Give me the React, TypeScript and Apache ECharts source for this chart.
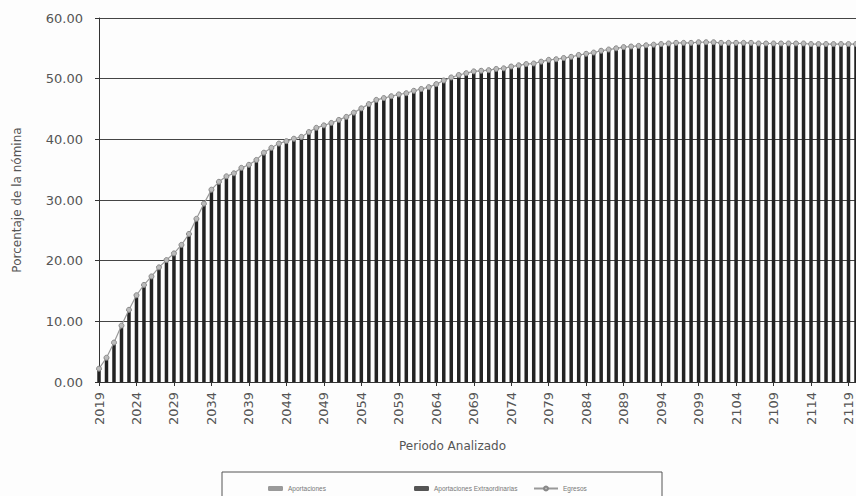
import React, { useEffect, useRef } from "react";
import * as echarts from "echarts";

const years: string[] = [
  "2019","2020","2021","2022","2023","2024","2025","2026","2027","2028",
  "2029","2030","2031","2032","2033","2034","2035","2036","2037","2038",
  "2039","2040","2041","2042","2043","2044","2045","2046","2047","2048",
  "2049","2050","2051","2052","2053","2054","2055","2056","2057","2058",
  "2059","2060","2061","2062","2063","2064","2065","2066","2067","2068",
  "2069","2070","2071","2072","2073","2074","2075","2076","2077","2078",
  "2079","2080","2081","2082","2083","2084","2085","2086","2087","2088",
  "2089","2090","2091","2092","2093","2094","2095","2096","2097","2098",
  "2099","2100","2101","2102","2103","2104","2105","2106","2107","2108",
  "2109","2110","2111","2112","2113","2114","2115","2116","2117","2118",
  "2119","2120",
];

// Egresos (% de la nómina)
const egresos: number[] = [
  2.2, 4.0, 6.5, 9.3, 11.9, 14.3, 16.0, 17.4, 18.9, 20.1,
  21.2, 22.6, 24.4, 26.9, 29.4, 31.7, 33.0, 33.9, 34.4, 35.3,
  35.8, 36.6, 37.8, 38.6, 39.3, 39.7, 40.1, 40.4, 41.2, 41.9,
  42.3, 42.7, 43.2, 43.7, 44.4, 45.1, 45.8, 46.5, 46.8, 47.1,
  47.4, 47.6, 48.0, 48.3, 48.6, 49.1, 49.7, 50.2, 50.6, 50.9,
  51.2, 51.3, 51.4, 51.6, 51.7, 52.0, 52.2, 52.4, 52.5, 52.8,
  53.1, 53.2, 53.4, 53.6, 53.9, 54.1, 54.3, 54.6, 54.8, 55.0,
  55.2, 55.3, 55.4, 55.5, 55.6, 55.7, 55.8, 55.9, 55.9, 55.9,
  56.0, 56.0, 56.0, 55.9, 55.9, 55.9, 55.9, 55.9, 55.8, 55.8,
  55.8, 55.8, 55.8, 55.8, 55.8, 55.7, 55.7, 55.7, 55.7, 55.7,
  55.7, 55.7,
];

// Aportaciones cover the expenses each year (bars reach the Egresos line)
const aportaciones: number[] = egresos.slice();
const aportacionesExtraordinarias: number[] = [];

const yTicks = { min: 0, max: 60, interval: 10 };

export default function App() {
  const ref = useRef<HTMLDivElement>(null);

  useEffect(() => {
    if (!ref.current) return;
    const chart = echarts.init(ref.current, undefined, { renderer: "svg" });
    const font = "DejaVu Sans";
    const legendText = { fontSize: 6.5, fontFamily: "Liberation Sans", color: "#777" };
    chart.setOption({
      animation: false,
      backgroundColor: "#fdfdfd",
      grid: { left: 99, right: 0, top: 18, bottom: 114, containLabel: false },
      xAxis: {
        type: "category",
        data: years,
        boundaryGap: false,
        axisLine: { show: true, lineStyle: { color: "#333", width: 1 } },
        axisTick: { show: true, interval: 4, length: 4, lineStyle: { color: "#333" } },
        axisLabel: {
          interval: 4,
          rotate: 90,
          margin: 10,
          fontSize: 13,
          fontFamily: font,
          color: "#555",
        },
        splitLine: { show: false },
      },
      yAxis: {
        type: "value",
        min: yTicks.min,
        max: yTicks.max,
        interval: yTicks.interval,
        name: "Porcentaje de la nómina",
        nameLocation: "middle",
        nameGap: 76,
        nameTextStyle: { fontSize: 12, fontFamily: font, color: "#555" },
        axisLine: { show: true, lineStyle: { color: "#333", width: 1 } },
        axisTick: { show: true, length: 4, lineStyle: { color: "#333" } },
        axisLabel: {
          margin: 16,
          fontSize: 13,
          fontFamily: font,
          color: "#555",
          formatter: (v: number) => v.toFixed(2),
        },
        splitLine: { show: true, lineStyle: { color: "#444", width: 1 } },
      },
      legend: [
        {
          data: [{ name: "Aportaciones", itemStyle: { color: "#9a9a9a" } }],
          left: 263,
          top: 480,
          itemWidth: 15,
          itemHeight: 5,
          itemGap: 3,
          textStyle: legendText,
        },
        {
          data: [{ name: "Aportaciones Extraordinarias", itemStyle: { color: "#555" } }],
          left: 409,
          top: 480,
          itemWidth: 15,
          itemHeight: 5,
          textStyle: legendText,
        },
        {
          data: ["Egresos"],
          left: 528,
          top: 480,
          itemWidth: 24,
          itemHeight: 5,
          textStyle: legendText,
        },
      ],
      graphic: [
        {
          type: "text",
          left: 399,
          top: 440,
          style: {
            text: "Periodo Analizado",
            fontSize: 12,
            fontFamily: font,
            fill: "#555",
          },
        },
        {
          type: "rect",
          shape: { x: 222, y: 472, width: 440, height: 40 },
          style: { fill: "none", stroke: "#555", lineWidth: 1 },
        },
      ],
      series: [
        {
          name: "Aportaciones",
          type: "bar",
          data: aportaciones,
          barWidth: 3.5,
          itemStyle: { color: "#222" },
          z: 2,
        },
        {
          name: "Aportaciones Extraordinarias",
          type: "bar",
          data: aportacionesExtraordinarias,
          barWidth: 3.5,
          barGap: "-100%",
          itemStyle: { color: "#555" },
        },
        {
          name: "Egresos",
          type: "line",
          data: egresos,
          symbol: "circle",
          symbolSize: 5,
          showAllSymbol: true,
          lineStyle: { color: "#999", width: 1.2 },
          itemStyle: { color: "#bbb", borderColor: "#888", borderWidth: 1 },
          z: 3,
        },
      ],
    });
    return () => chart.dispose();
  }, []);

  return (
    <div
      ref={ref}
      style={{ position: "fixed", left: 0, top: 0, width: 856, height: 496 }}
    />
  );
}
